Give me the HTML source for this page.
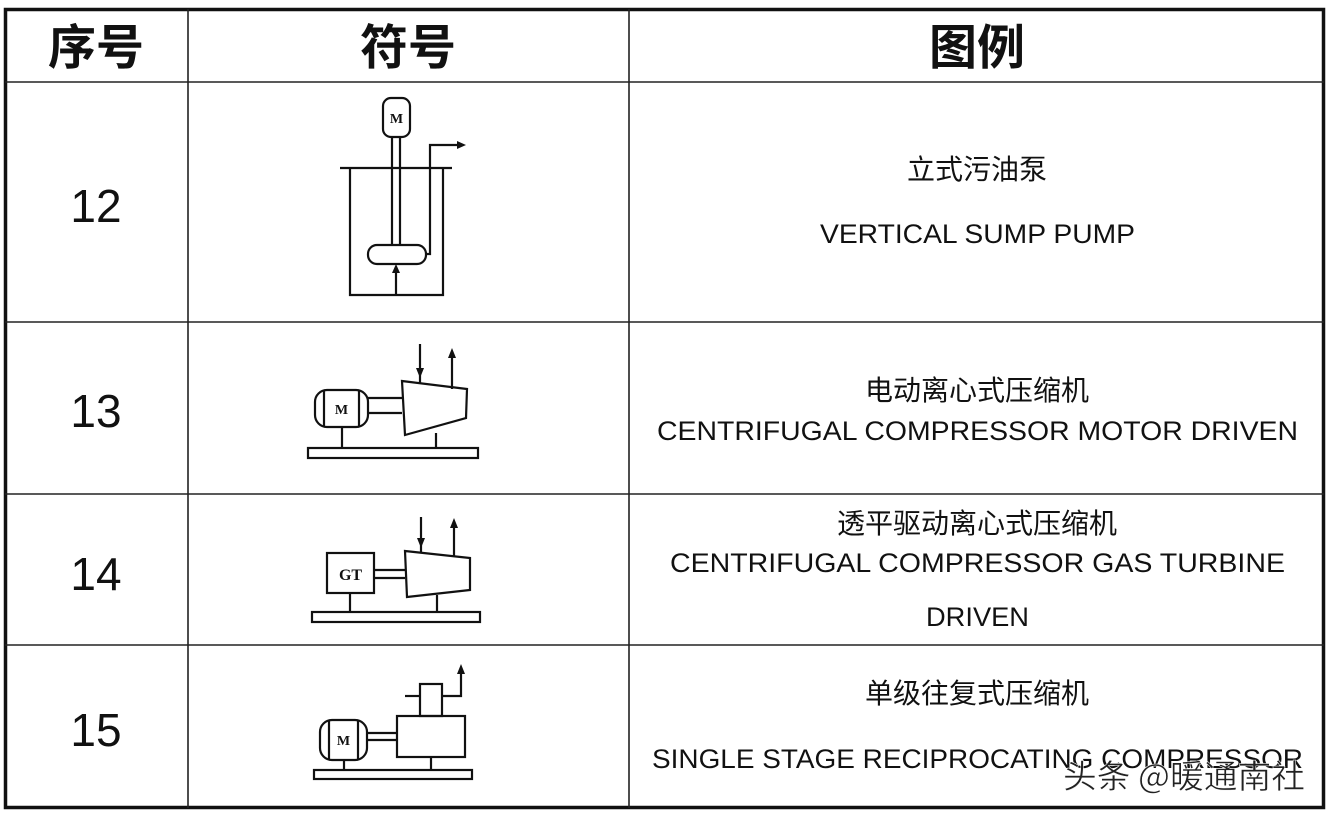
<!DOCTYPE html>
<html><head><meta charset="utf-8"><style>
html,body{margin:0;padding:0;background:#fff;width:1330px;height:816px;overflow:hidden}
svg{display:block}
.h{font-family:"Liberation Sans","Noto Sans CJK SC",sans-serif;font-weight:bold;font-size:48px;fill:#111}
.n{font-family:"Liberation Sans",sans-serif;font-size:46px;fill:#111}
.d{font-family:"Liberation Sans","Noto Sans CJK SC",sans-serif;font-size:27px;fill:#111}
.c{font-family:"Noto Sans CJK SC",sans-serif;font-size:28px;fill:#111}
.s{stroke:#111;stroke-width:2.2;fill:none}
.m{font-family:"Liberation Serif",serif;font-weight:bold;font-size:14px;fill:#111}
</style></head><body>
<svg width="1330" height="816" viewBox="0 0 1330 816">
<rect x="0" y="0" width="1330" height="816" fill="#fff"/>
<rect x="5.5" y="9.5" width="1318" height="798" fill="none" stroke="#111" stroke-width="3.5"/>
<g stroke="#222" stroke-width="1.6">
<line x1="188" y1="9" x2="188" y2="808"/>
<line x1="629" y1="9" x2="629" y2="808"/>
<line x1="5" y1="82" x2="1324" y2="82"/>
<line x1="5" y1="322" x2="1324" y2="322"/>
<line x1="5" y1="494" x2="1324" y2="494"/>
<line x1="5" y1="645" x2="1324" y2="645"/>
</g>
<text class="h" x="96" y="64" text-anchor="middle">序号</text>
<text class="h" x="408" y="64" text-anchor="middle">符号</text>
<text class="h" x="977" y="64" text-anchor="middle">图例</text>
<text class="n" x="96" y="222" text-anchor="middle">12</text>
<text class="n" x="96" y="427" text-anchor="middle">13</text>
<text class="n" x="96" y="590" text-anchor="middle">14</text>
<text class="n" x="96" y="746" text-anchor="middle">15</text>
<text class="c" x="977" y="179" text-anchor="middle">立式污油泵</text>
<text class="d" x="820" y="243" textLength="315" lengthAdjust="spacingAndGlyphs">VERTICAL SUMP PUMP</text>
<text class="c" x="977" y="400" text-anchor="middle">电动离心式压缩机</text>
<text class="d" x="657" y="440" textLength="641" lengthAdjust="spacingAndGlyphs">CENTRIFUGAL COMPRESSOR MOTOR DRIVEN</text>
<text class="c" x="977" y="533" text-anchor="middle">透平驱动离心式压缩机</text>
<text class="d" x="670" y="572" textLength="615" lengthAdjust="spacingAndGlyphs">CENTRIFUGAL COMPRESSOR GAS TURBINE</text>
<text class="d" x="926" y="626" textLength="103" lengthAdjust="spacingAndGlyphs">DRIVEN</text>
<text class="c" x="977" y="703" text-anchor="middle">单级往复式压缩机</text>
<text class="d" x="652" y="768" textLength="651" lengthAdjust="spacingAndGlyphs">SINGLE STAGE RECIPROCATING COMPRESSOR</text>
<text x="1063" y="788" textLength="242" lengthAdjust="spacingAndGlyphs" font-family="'Noto Sans CJK SC',sans-serif" font-size="33" fill="#222" stroke="#fff" stroke-width="0.5">头条 @暖通南社</text>

<!-- 12 -->
<g class="s">
<rect x="383" y="98" width="27" height="39" rx="8"/>
<line x1="392" y1="137" x2="392" y2="245"/><line x1="400" y1="137" x2="400" y2="245"/>
<line x1="340" y1="168" x2="452" y2="168"/>
<polyline points="350,168 350,295 443,295 443,168"/>
<rect x="368" y="245" width="58" height="19" rx="9"/>
<polyline points="426,254 430,254 430,145 462,145"/>
<line x1="396" y1="295" x2="396" y2="268"/>
</g>
<polygon points="466,145 457,141 457,149" fill="#111"/>
<polygon points="396,264 392,273 400,273" fill="#111"/>
<text class="m" x="396.5" y="123" text-anchor="middle">M</text>

<!-- 13 -->
<g class="s">
<rect x="315" y="390" width="53" height="37" rx="12"/>
<line x1="324" y1="391" x2="324" y2="426"/><line x1="359" y1="391" x2="359" y2="426"/>
<line x1="368" y1="398" x2="402" y2="398"/><line x1="368" y1="413" x2="402" y2="413"/>
<polygon points="402,381 467,389 466,418 405,435"/>
<line x1="420" y1="344" x2="420" y2="383"/>
<line x1="452" y1="389" x2="452" y2="352"/>
<rect x="308" y="448" width="170" height="10"/>
<line x1="342" y1="427" x2="342" y2="448"/><line x1="436" y1="433" x2="436" y2="448"/>
</g>
<polygon points="420,378 416,368 424,368" fill="#111"/>
<polygon points="452,348 448,358 456,358" fill="#111"/>
<text class="m" x="341.5" y="414" text-anchor="middle">M</text>

<!-- 14 -->
<g class="s">
<rect x="327" y="553" width="47" height="40"/>
<line x1="374" y1="570" x2="405" y2="570"/><line x1="374" y1="578" x2="405" y2="578"/>
<polygon points="405,551 470,558 470,590 407,597"/>
<line x1="421" y1="517" x2="421" y2="553"/>
<line x1="454" y1="556" x2="454" y2="522"/>
<rect x="312" y="612" width="168" height="10"/>
<line x1="350" y1="593" x2="350" y2="612"/><line x1="437" y1="595" x2="437" y2="612"/>
</g>
<polygon points="421,548 417,538 425,538" fill="#111"/>
<polygon points="454,518 450,528 458,528" fill="#111"/>
<text x="350.5" y="580" text-anchor="middle" font-family="'Liberation Serif',serif" font-weight="bold" font-size="16" fill="#111">GT</text>

<!-- 15 -->
<g class="s">
<rect x="320" y="720" width="47" height="40" rx="12"/>
<line x1="329" y1="721" x2="329" y2="759"/><line x1="358" y1="721" x2="358" y2="759"/>
<line x1="367" y1="733" x2="397" y2="733"/><line x1="367" y1="740" x2="397" y2="740"/>
<rect x="397" y="716" width="68" height="41"/>
<rect x="420" y="684" width="22" height="32"/>
<line x1="405" y1="696" x2="420" y2="696"/>
<polyline points="442,696 461,696 461,672"/>
<rect x="314" y="770" width="158" height="9"/>
<line x1="344" y1="760" x2="344" y2="770"/><line x1="431" y1="757" x2="431" y2="770"/>
</g>
<polygon points="461,664 457,674 465,674" fill="#111"/>
<text class="m" x="343.5" y="745" text-anchor="middle">M</text>
</svg>
</body></html>
